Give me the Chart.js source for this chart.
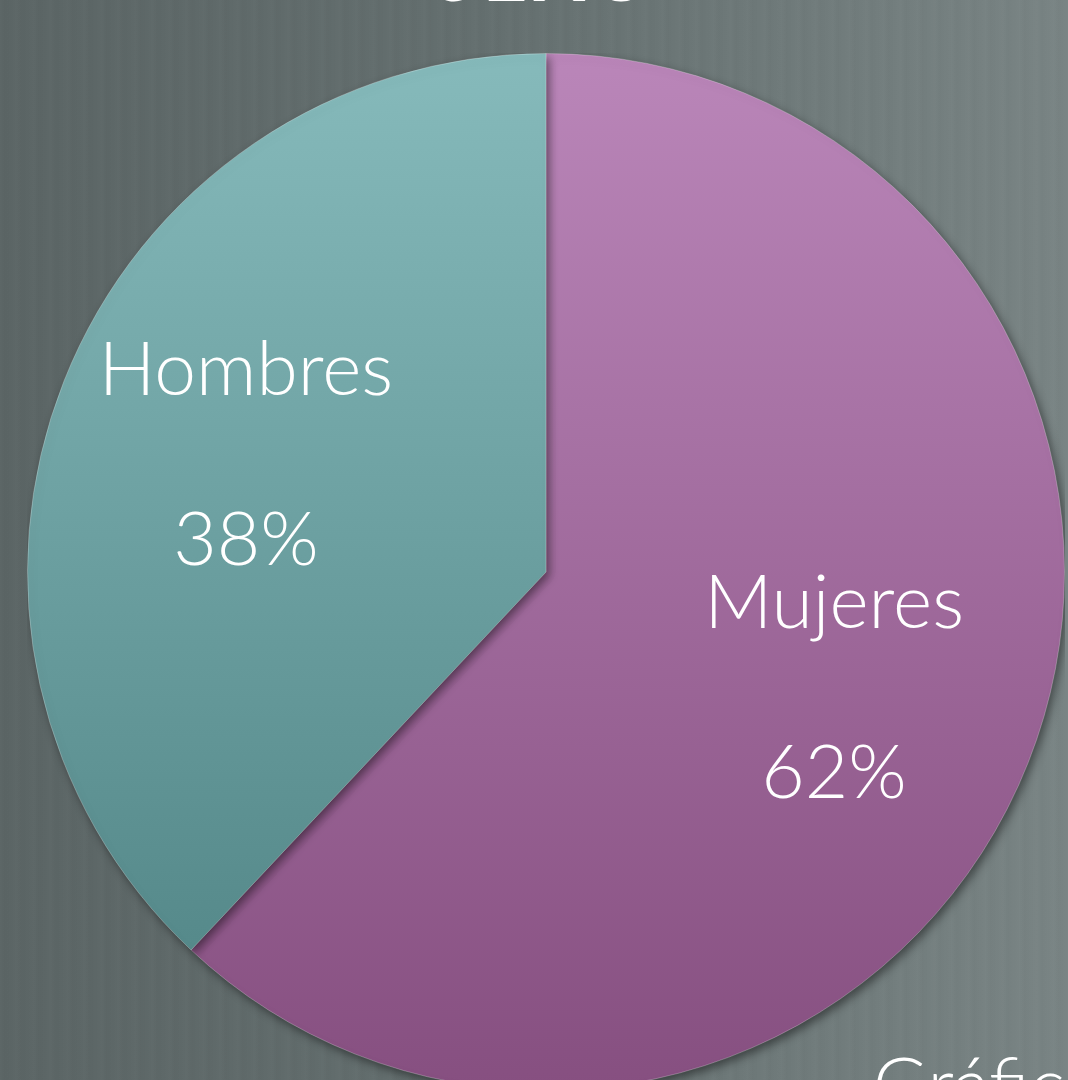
<!DOCTYPE html>
<html>
<head>
<meta charset="utf-8">
<script src="https://cdn.jsdelivr.net/npm/chart.js@4.4.1/dist/chart.umd.min.js"></script>
<style>
  html, body { margin: 0; padding: 0; width: 1068px; height: 1080px; overflow: hidden; }
  body {
    position: relative;
    background:
      repeating-linear-gradient(90deg, rgba(255,255,255,0.012) 0px, rgba(0,0,0,0.015) 5px, rgba(255,255,255,0) 11px, rgba(255,255,255,0.015) 17px),
      linear-gradient(90deg, #5b6565 0%, #646f6f 45%, #798484 100%);
    font-family: 'Lato', 'Open Sans', sans-serif;
  }
  #title {
    position: absolute; left: 0; width: 1092px; top: -76px; text-align: center;
    color: #fff; font: 700 78px 'Lato', sans-serif; letter-spacing: 6px; line-height: 94px;
  }
  #foot {
    position: absolute; left: 873px; top: 1037px; color: #fff;
    font: 300 75px 'Lato', sans-serif; white-space: nowrap;
  }
  #wrap { position: absolute; left: 27px; top: 53px; width: 1038px; height: 1038px; }
</style>
</head>
<body>
<div id="title">SEXO</div>
<div id="wrap"><canvas id="pie"></canvas></div>
<div id="foot">Gráficos</div>
<script>
const labels = ['Mujeres', 'Hombres'];
const values = [62, 38];
const topColors = ['#ba86b9', '#86babb'];
const bottomColors = ['#864f80', '#4e8283'];

// vertical gradient per slice, top of pie to bottom of pie
function sliceFill(ctx) {
  const ch = ctx.chart;
  const area = ch.chartArea;
  if (!area || !isFinite(area.top) || !isFinite(area.bottom)) return topColors[ctx.dataIndex];
  const g = ch.ctx.createLinearGradient(0, area.top, 0, area.bottom);
  g.addColorStop(0, topColors[ctx.dataIndex]);
  g.addColorStop(1, bottomColors[ctx.dataIndex]);
  return g;
}

const shadowPlugin = {
  id: 'pie-shadow',
  beforeDatasetsDraw(ch) {
    const { ctx } = ch;
    ctx.save();
    ctx.shadowColor = 'rgba(0,0,0,0.45)';
    ctx.shadowBlur = 10;
    ctx.shadowOffsetX = 3;
    ctx.shadowOffsetY = 4;
  },
  afterDatasetsDraw(ch) {
    ch.ctx.restore();
  }
};

const labelPlugin = {
  id: 'pie-labels',
  afterDraw(ch) {
    const { ctx } = ch;
    const total = values.reduce((a, b) => a + b, 0);
    ctx.save();
    ctx.fillStyle = '#ffffff';
    ctx.font = '300 75px Lato, sans-serif';
    ctx.textAlign = 'center';
    ctx.textBaseline = 'middle';
    ch.getDatasetMeta(0).data.forEach((arc, i) => {
      const mid = (arc.startAngle + arc.endAngle) / 2;
      const d = arc.outerRadius * 0.61;
      const x = arc.x + Math.cos(mid) * d - 6;
      const y = arc.y + Math.sin(mid) * d;
      ctx.fillText(labels[i], x, y - 85);
      ctx.fillText(Math.round(values[i] / total * 100) + '%', x, y + 85);
    });
    ctx.restore();
  }
};

new Chart(document.getElementById('pie'), {
  type: 'pie',
  data: {
    labels,
    datasets: [{
      data: values,
      backgroundColor: sliceFill,
      borderColor: 'rgba(255,255,255,0.25)',
      borderWidth: 1
    }]
  },
  options: {
    responsive: true, maintainAspectRatio: false,
    animation: false,
    layout: { padding: 0 },
    plugins: { legend: { display: false }, tooltip: { enabled: false } }
  },
  plugins: [shadowPlugin, labelPlugin]
});
</script>
</body>
</html>
